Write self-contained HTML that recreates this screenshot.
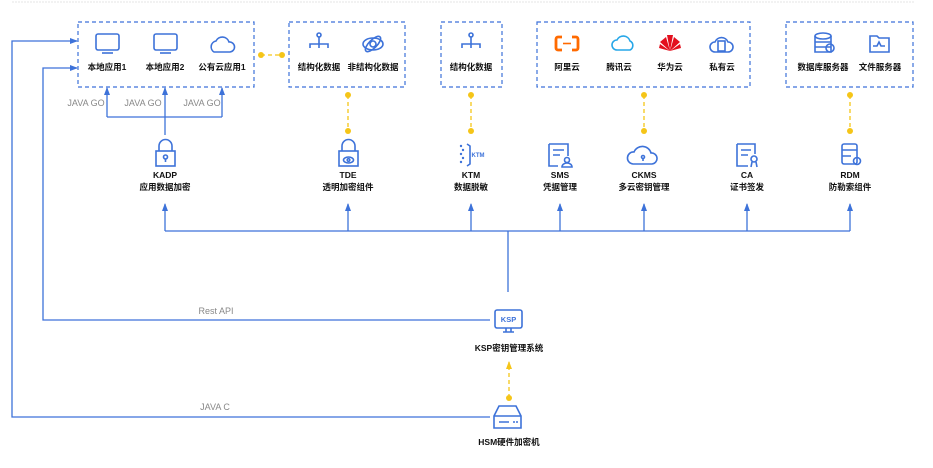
<!DOCTYPE html>
<html><head><meta charset="utf-8"><style>
html,body{margin:0;padding:0;background:#fff;}
svg{display:block;font-family:"Liberation Sans","Noto Sans CJK SC",sans-serif;}
.lb{font-size:8.5px;font-weight:bold;fill:#111;text-anchor:middle;}
.g{font-size:9px;fill:#888;text-anchor:middle;}
.ic{fill:none;stroke:#3d72d9;stroke-width:1.6;}
</style></head><body>
<svg width="933" height="468" viewBox="0 0 933 468">
<defs>
<marker id="ar" markerWidth="8" markerHeight="8" refX="7" refY="4" orient="auto" markerUnits="userSpaceOnUse"><path d="M0,1 L8,4 L0,7 z" fill="#3d72d9"/></marker>
<marker id="ay" markerWidth="8" markerHeight="8" refX="7" refY="4" orient="auto" markerUnits="userSpaceOnUse"><path d="M0,1 L8,4 L0,7 z" fill="#f5c518"/></marker>
</defs>
<line x1="12" y1="2" x2="915" y2="2" stroke="#e6e6e6" stroke-width="1" stroke-dasharray="2,1"/>
<g fill="none" stroke="#3d72d9" stroke-width="1.2" stroke-dasharray="4,3">
<rect x="78" y="22" width="176" height="65"/>
<rect x="289" y="22" width="116" height="65"/>
<rect x="441" y="22" width="61" height="65"/>
<rect x="537" y="22" width="213" height="65"/>
<rect x="786" y="22" width="127" height="65"/>
</g>
<g class="ic">
<rect x="96" y="34" width="23" height="16" rx="2"/><line x1="102" y1="53" x2="113" y2="53"/>
<rect x="154" y="34" width="23" height="16" rx="2"/><line x1="160" y1="53" x2="171" y2="53"/>
<path d="M214,52 a6,6 0 0 1 2,-11 a7,7 0 0 1 13,1 a5,5 0 0 1 1,10 z"/>
<circle cx="319" cy="35" r="2"/><path d="M319,37 V44 M310,48 V44 H328 V48 M319,44 V48"/>
<ellipse cx="373" cy="44" rx="10" ry="6"/><ellipse cx="373" cy="44" rx="4" ry="10" transform="rotate(45 373 44)"/><circle cx="373" cy="44" r="3"/>
<circle cx="471" cy="35" r="2"/><path d="M471,37 V44 M462,48 V44 H480 V48 M471,44 V48"/>
<path d="M617,50 a5,5 0 0 1 0,-10 a7,7 0 0 1 13,1 a5,5 0 0 1 0,9 z" stroke="#27a7e8"/>
<path d="M715,52 a5,5 0 0 1 0,-10 a7,7 0 0 1 13,0 a5,5 0 0 1 0,10 z"/>
<rect x="718" y="41" width="7" height="10"/>
<ellipse cx="823" cy="36" rx="8" ry="3"/><path d="M815,36 V52 H831 V36 M815,42 H831 M815,47 H831"/><circle cx="830" cy="48" r="4"/>
<path d="M870,36 H877 L879,38 H889 V52 H870 Z M873,46 H877 L879,42 L881,46 H885"/>
</g>
<g fill="none" stroke="#ff6a00" stroke-width="2.8">
<path d="M562,37 H558 a2,2 0 0 0 -2,2 V48 a2,2 0 0 0 2,2 H562"/>
<path d="M572,37 H576 a2,2 0 0 1 2,2 V48 a2,2 0 0 1 -2,2 H572"/>
</g>
<line x1="563" y1="43.5" x2="571" y2="43.5" stroke="#ff6a00" stroke-width="1.6"/>
<g fill="#e3101e"><path d="M670,51 L660,42 L666,37 Z M670,51 L680,42 L674,37 Z M670,51 L667,35 L673,35 Z M670,51 L659,48 L660,44 Z M670,51 L681,48 L680,44 Z"/></g>
<text x="107" y="70" class="lb">本地应用1</text><text x="165" y="70" class="lb">本地应用2</text><text x="222" y="70" class="lb">公有云应用1</text>
<text x="319" y="70" class="lb">结构化数据</text><text x="373" y="70" class="lb">非结构化数据</text>
<text x="471" y="70" class="lb">结构化数据</text>
<text x="567" y="70" class="lb">阿里云</text><text x="619" y="70" class="lb">腾讯云</text><text x="670" y="70" class="lb">华为云</text><text x="722" y="70" class="lb">私有云</text>
<text x="823" y="70" class="lb">数据库服务器</text><text x="880" y="70" class="lb">文件服务器</text>
<g stroke="#f5c518" stroke-width="1.3" stroke-dasharray="4,3" fill="none">
<line x1="261" y1="55" x2="282" y2="55"/>
<line x1="348" y1="95" x2="348" y2="131"/><line x1="471" y1="95" x2="471" y2="131"/>
<line x1="644" y1="95" x2="644" y2="131"/><line x1="850" y1="95" x2="850" y2="131"/>
<line x1="509" y1="398" x2="509" y2="362" marker-end="url(#ay)"/>
</g>
<g fill="#f5c518">
<circle cx="261" cy="55" r="3"/><circle cx="282" cy="55" r="3"/>
<circle cx="348" cy="95" r="3"/><circle cx="348" cy="131" r="3"/>
<circle cx="471" cy="95" r="3"/><circle cx="471" cy="131" r="3"/>
<circle cx="644" cy="95" r="3"/><circle cx="644" cy="131" r="3"/>
<circle cx="850" cy="95" r="3"/><circle cx="850" cy="131" r="3"/>
<circle cx="509" cy="398" r="3"/>
</g>
<g stroke="#3d72d9" stroke-width="1.3" fill="none">
<path d="M107,117 H222"/><path d="M165,135 V88" marker-end="url(#ar)"/>
<path d="M107,117 V88" marker-end="url(#ar)"/><path d="M222,117 V88" marker-end="url(#ar)"/>
<path d="M165,231 H850"/>
<path d="M165,231 V204" marker-end="url(#ar)"/><path d="M348,231 V204" marker-end="url(#ar)"/>
<path d="M471,231 V204" marker-end="url(#ar)"/><path d="M560,231 V204" marker-end="url(#ar)"/>
<path d="M644,231 V204" marker-end="url(#ar)"/><path d="M747,231 V204" marker-end="url(#ar)"/>
<path d="M850,231 V204" marker-end="url(#ar)"/>
<path d="M508,231 V292"/>
<path d="M490,320 H43 V68 H77" marker-end="url(#ar)"/>
<path d="M490,417 H12 V41 H77" marker-end="url(#ar)"/>
</g>
<text x="86" y="106" class="g">JAVA GO</text><text x="143" y="106" class="g">JAVA GO</text><text x="202" y="106" class="g">JAVA GO</text>
<text x="216" y="314" class="g" font-size="10">Rest API</text><text x="215" y="410" class="g" font-size="10">JAVA C</text>
<g class="ic">
<rect x="156" y="151" width="19" height="15"/><path d="M159,151 V146 a6.5,6.5 0 0 1 13,0 V151"/><circle cx="165.5" cy="157" r="2"/><line x1="165.5" y1="159" x2="165.5" y2="162"/>
<rect x="339" y="151" width="19" height="15"/><path d="M342,151 V146 a6.5,6.5 0 0 1 13,0 V151"/><ellipse cx="348.5" cy="160" rx="5" ry="3"/><circle cx="348.5" cy="160" r="1.3"/>
<path d="M467,144 L470,146 V164 L467,166"/>
<path d="M549,144 H568 V156 M549,144 V166 H558 M553,150 H564 M553,155 H560"/><circle cx="567" cy="160" r="2.5"/><path d="M562,167 a5,4 0 0 1 10,0 z"/>
<path d="M633,164 a6,6 0 0 1 1,-12 a9,9 0 0 1 17,1 a5.5,5.5 0 0 1 1,11 z"/><circle cx="643" cy="157" r="1.5"/><line x1="643" y1="158" x2="643" y2="161"/>
<path d="M737,144 H755 V154 M737,144 V166 H748 M741,150 H751 M741,155 H748"/><circle cx="754" cy="159" r="3"/><path d="M752,162 L751,167 M756,162 L757,167"/>
<rect x="842" y="144" width="15" height="20" rx="2"/><path d="M842,150 H857 M842,156 H851"/><circle cx="857" cy="161" r="3.5"/>
<rect x="495" y="310" width="27" height="18" rx="2"/><path d="M503,332 H514 M506,328 V332 M511,328 V332"/>
<path d="M494,428 V416 L499,406 H516 L521,416 V428 Z M494,416 H521 M499,422 H509"/>
</g>
<g fill="#3d72d9"><circle cx="461" cy="146" r="1.2"/><circle cx="463" cy="150" r="1.2"/><circle cx="461" cy="154" r="1.2"/><circle cx="463" cy="158" r="1.2"/><circle cx="461" cy="162" r="1.2"/></g>
<text x="478" y="157" fill="#3d72d9" font-size="6" font-weight="bold" text-anchor="middle">KTM</text>
<text x="508.5" y="322" fill="#3d72d9" font-size="7.5" font-weight="bold" text-anchor="middle">KSP</text>
<circle cx="514" cy="422" r="1" fill="#3d72d9"/><circle cx="517" cy="422" r="1" fill="#3d72d9"/>
<text x="165" y="178" class="lb">KADP</text><text x="165" y="190" class="lb">应用数据加密</text>
<text x="348" y="178" class="lb">TDE</text><text x="348" y="190" class="lb">透明加密组件</text>
<text x="471" y="178" class="lb">KTM</text><text x="471" y="190" class="lb">数据脱敏</text>
<text x="560" y="178" class="lb">SMS</text><text x="560" y="190" class="lb">凭据管理</text>
<text x="644" y="178" class="lb">CKMS</text><text x="644" y="190" class="lb">多云密钥管理</text>
<text x="747" y="178" class="lb">CA</text><text x="747" y="190" class="lb">证书签发</text>
<text x="850" y="178" class="lb">RDM</text><text x="850" y="190" class="lb">防勒索组件</text>
<text x="509" y="351" class="lb" font-size="10.5">KSP密钥管理系统</text>
<text x="509" y="445" class="lb" font-size="10.5">HSM硬件加密机</text>
</svg>
</body></html>
